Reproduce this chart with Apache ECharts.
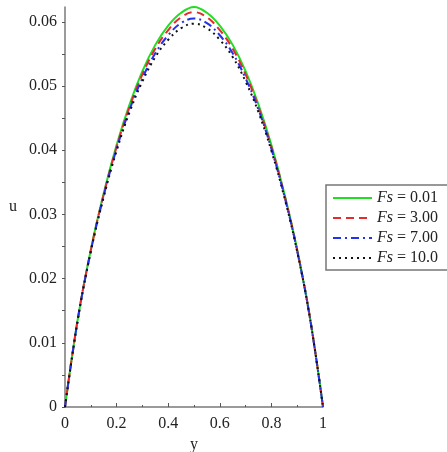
<!DOCTYPE html>
<html><head><meta charset="utf-8">
<script src="https://cdn.jsdelivr.net/npm/echarts@6/dist/echarts.min.js"></script>
<style>html,body{margin:0;padding:0;background:#fff}#c{width:447px;height:452px}</style>
</head><body><div id="c"></div>
<script>
// Data
const yPos = [0,0.05,0.1,0.15,0.2,0.25,0.3,0.35,0.4,0.45,0.5,0.55,0.6,0.65,0.7,0.75,0.8,0.85,0.9,0.95,1];
const uFs001 = [0,0.0138,0.0245,0.0333,0.0408,0.0471,0.0523,0.0564,0.0594,0.0614,0.0623,0.0614,0.0594,0.0564,0.0523,0.0471,0.0408,0.0333,0.0245,0.0138,0];
const uFs300 = [0,0.0138,0.0244,0.0331,0.0405,0.0467,0.0518,0.0558,0.0587,0.0607,0.0615,0.0607,0.0587,0.0558,0.0518,0.0467,0.0405,0.0331,0.0244,0.0138,0];
const uFs700 = [0,0.0137,0.0243,0.0329,0.0402,0.0463,0.0512,0.0551,0.0579,0.0598,0.0605,0.0598,0.0579,0.0551,0.0512,0.0463,0.0402,0.0329,0.0243,0.0137,0];
const uFs100 = [0,0.0137,0.0242,0.0327,0.0399,0.0459,0.0507,0.0545,0.0572,0.0590,0.0597,0.0590,0.0572,0.0545,0.0507,0.0459,0.0399,0.0327,0.0242,0.0137,0];
const seriesNames = ['0.01','3.00','7.00','10.0'];
const xTicks = [0,0.2,0.4,0.6,0.8,1];
const yTickLabels = [0,0.01,0.02,0.03,0.04,0.05,0.06];
const yTickMarks = [0,0.005,0.01,0.015,0.02,0.025,0.03,0.035,0.04,0.045,0.05,0.055,0.06];

const FONT = '"Liberation Serif","Times New Roman",serif';
const pair = arr => yPos.map((x,i)=>[x,arr[i]]);
const styles = [
  {color:'#22dd22', type:'solid'},
  {color:'#e52b2b', type:[8,5]},
  {color:'#2233ee', type:[8,4,2,4]},
  {color:'#111111', type:[2,4]}
];
const datas = [uFs001,uFs300,uFs700,uFs100];

const chart = echarts.init(document.getElementById('c'), null, {renderer:'canvas'});
chart.setOption({
  animation:false,
  backgroundColor:'#fff',
  grid:{left:65,right:124,top:7,bottom:45,containLabel:false,outerBoundsMode:'none'},
  legend:{
    orient:'vertical', left:326, top:185,
    borderColor:'#777', borderWidth:1.5, padding:[5,40,4,6],
    itemWidth:39, itemHeight:14, itemGap:4,
    data:seriesNames,
    itemStyle:{color:'transparent',borderColor:'transparent',borderWidth:0,opacity:0},
    formatter: n => '{i|Fs} = ' + n,
    textStyle:{fontFamily:FONT,fontSize:16,color:'#222',
      rich:{i:{fontFamily:FONT,fontSize:16,fontStyle:'italic',color:'#222'}}}
  },
  xAxis:{
    type:'value', min:0, max:1, interval:0.2,
    name:'y', nameLocation:'middle', nameGap:27,
    nameTextStyle:{fontFamily:FONT,fontSize:16,color:'#222'},
    axisLine:{onZero:false,lineStyle:{color:'#7a7a7a',width:1.5}},
    axisTick:{inside:true,length:4,lineStyle:{color:'#555'}},
    minorTick:{show:true,splitNumber:2,length:2,lineStyle:{color:'#555'}},
    splitLine:{show:false},
    axisLabel:{fontFamily:FONT,fontSize:16,color:'#222',margin:9,
      customValues:xTicks}
  },
  yAxis:{
    type:'value', min:0, max:0.0623,
    name:'u', nameLocation:'middle', nameGap:48, nameRotate:0,
    nameTextStyle:{fontFamily:FONT,fontSize:16,color:'#222'},
    axisLine:{show:true,onZero:false,lineStyle:{color:'#7a7a7a',width:1.5}},
    axisTick:{show:true,length:3,customValues:yTickMarks,lineStyle:{color:'#555'}},
    splitLine:{show:false},
    axisLabel:{fontFamily:FONT,fontSize:16,color:'#222',margin:8,
      customValues:yTickLabels}
  },
  series: seriesNames.map((n,i)=>({
    name:n, type:'line', data:pair(datas[i]),
    symbol:'none', smooth:0.4, clip:false,
    color:styles[i].color,
    lineStyle:{color:styles[i].color,width:2,type:styles[i].type}
  }))
});
</script></body></html>
